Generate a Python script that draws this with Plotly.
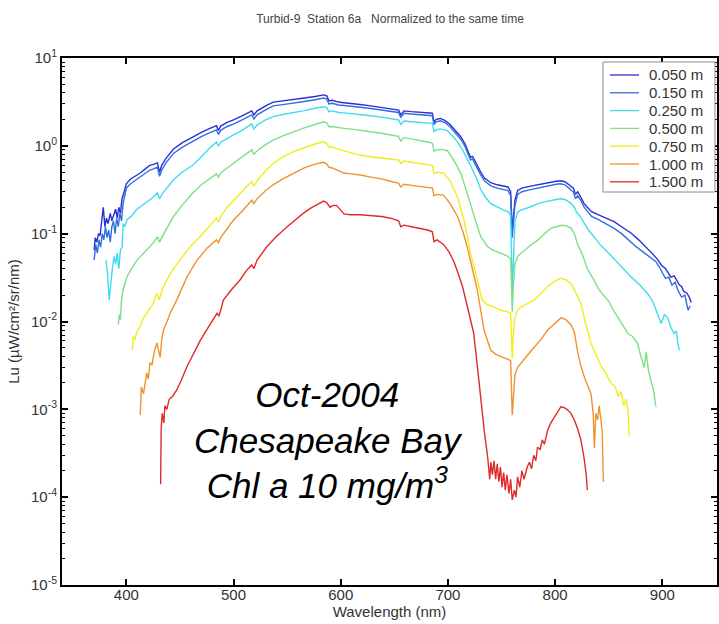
import plotly.graph_objects as go

# Upwelling radiance Lu at several depths, Turbid-9 station 6a
DEPTH_LABELS = ["0.050 m", "0.150 m", "0.250 m", "0.500 m", "0.750 m", "1.000 m", "1.500 m"]
LINE_COLORS = ["#2e2ed2", "#2f6fe0", "#3fdcef", "#7fdf86", "#eeee1e", "#f0922e", "#e02a2a"]

# (wavelength nm, Lu uW/cm^2/sr/nm)
LU_0050 = [
    (370, 0.065), (371, 0.09), (372.5, 0.08), (374, 0.1), (375.5, 0.095), (377, 0.13), (378.5, 0.2),
    (380, 0.12), (381.5, 0.15), (383, 0.13), (385, 0.17), (386.5, 0.14), (388, 0.16), (390, 0.19),
    (391.5, 0.15), (393, 0.2), (394.5, 0.17), (396, 0.25), (398, 0.3), (400, 0.37), (404, 0.42),
    (408, 0.45), (413, 0.49), (418, 0.55), (422, 0.6), (426, 0.62), (429, 0.64), (431, 0.5),
    (433, 0.6), (437, 0.72), (444, 0.92), (452, 1.08), (462, 1.27), (470, 1.42), (478, 1.58),
    (484, 1.7), (486, 1.5), (488, 1.68), (494, 1.85), (500, 1.97), (508, 2.2), (514, 2.4),
    (517, 2.5), (519, 2.25), (522, 2.5), (530, 2.85), (537, 3.15), (546, 3.25), (556, 3.35),
    (566, 3.5), (576, 3.65), (584, 3.8), (587, 3.7), (589, 3.25), (592, 3.3), (598, 3.15),
    (603, 3.1), (610, 3.05), (618, 2.95), (628, 2.85), (638, 2.75), (648, 2.62), (654, 2.55),
    (656, 2.25), (659, 2.5), (666, 2.45), (675, 2.42), (682, 2.38), (685.5, 2.35), (687, 1.85),
    (689, 2.0), (693, 2.05), (697, 1.95), (702, 1.75), (707, 1.5), (712, 1.27), (716, 1.05),
    (719.5, 0.8), (721, 0.74), (723, 0.76), (727, 0.6), (730, 0.52), (734, 0.43), (740, 0.38),
    (746, 0.36), (752, 0.35), (756, 0.34), (758.5, 0.3), (760, 0.11), (761, 0.15), (762.5, 0.24),
    (765, 0.31), (769, 0.33), (776, 0.345), (784, 0.36), (790, 0.375), (796, 0.39), (801, 0.395),
    (805, 0.40), (809, 0.39), (813, 0.36), (815, 0.34), (817, 0.33), (819, 0.28), (821, 0.3),
    (824, 0.26), (827, 0.22), (830, 0.2), (834, 0.178), (840, 0.165), (848, 0.148), (855, 0.137),
    (862, 0.12), (871, 0.101), (878, 0.085), (885, 0.07), (892, 0.057), (896, 0.05), (899, 0.044),
    (903, 0.04), (906, 0.035), (908, 0.032), (911, 0.033), (914, 0.028), (916, 0.026),
    (918, 0.025), (920, 0.022), (923, 0.021), (925, 0.019), (927, 0.0165),
]

LU_0150 = [
    (370, 0.05), (371.5, 0.075), (373, 0.06), (374.5, 0.085), (376, 0.07), (377.5, 0.1),
    (379, 0.085), (380.5, 0.12), (382, 0.09), (383.5, 0.11), (385, 0.08), (386.5, 0.12),
    (388, 0.14), (389.5, 0.1), (391, 0.15), (392.5, 0.12), (394, 0.17), (395.5, 0.14),
    (397, 0.22), (398.5, 0.28), (400, 0.33), (404, 0.37), (408, 0.4), (413, 0.44), (418, 0.49),
    (422, 0.53), (426, 0.55), (429, 0.57), (431, 0.45), (433, 0.53), (437, 0.64), (444, 0.82),
    (452, 0.96), (462, 1.13), (470, 1.27), (478, 1.41), (484, 1.52), (486, 1.35), (488, 1.5),
    (494, 1.66), (500, 1.77), (508, 1.98), (514, 2.15), (517, 2.25), (519, 2.02), (522, 2.25),
    (530, 2.57), (537, 2.85), (546, 2.95), (556, 3.05), (566, 3.2), (576, 3.35), (584, 3.5),
    (587, 3.4), (589, 3.0), (592, 3.05), (598, 2.92), (603, 2.88), (610, 2.84), (618, 2.75),
    (628, 2.66), (638, 2.57), (648, 2.46), (654, 2.4), (656, 2.1), (659, 2.35), (666, 2.3),
    (675, 2.27), (682, 2.24), (685.5, 2.2), (687, 1.74), (689, 1.88), (693, 1.93), (697, 1.84),
    (702, 1.65), (707, 1.41), (712, 1.19), (716, 0.98), (719.5, 0.75), (721, 0.69), (723, 0.71),
    (727, 0.56), (730, 0.48), (734, 0.4), (740, 0.35), (746, 0.33), (752, 0.32), (756, 0.31),
    (758.5, 0.27), (760, 0.09), (761, 0.13), (762.5, 0.21), (765, 0.28), (769, 0.3), (776, 0.315),
    (784, 0.33), (790, 0.345), (796, 0.36), (801, 0.365), (805, 0.37), (809, 0.36), (813, 0.33),
    (815, 0.31), (817, 0.3), (819, 0.25), (821, 0.27), (824, 0.24), (827, 0.2), (830, 0.18),
    (834, 0.157), (840, 0.145), (848, 0.128), (855, 0.115), (862, 0.1), (868, 0.085),
    (875, 0.072), (882, 0.062), (889, 0.053), (894, 0.048), (897, 0.042), (900, 0.036),
    (903, 0.031), (906, 0.032), (909, 0.026), (912, 0.028), (915, 0.022), (918, 0.019),
    (921, 0.02), (924, 0.0135), (926, 0.015),
]

LU_0250 = [
    (381, 0.05), (382.5, 0.035), (384, 0.0175), (385.5, 0.03), (387, 0.04), (388.5, 0.055),
    (390, 0.045), (391.5, 0.06), (393, 0.04), (394.5, 0.065), (396, 0.07), (397, 0.13),
    (398.5, 0.12), (400.5, 0.143), (405, 0.16), (410, 0.19), (415, 0.21), (420, 0.235),
    (425, 0.26), (429, 0.29), (431, 0.25), (434, 0.29), (440, 0.36), (444, 0.41), (452, 0.5),
    (462, 0.6), (470, 0.75), (478, 0.95), (484, 1.1), (486, 0.99), (488, 1.1), (494, 1.22),
    (500, 1.33), (508, 1.5), (514, 1.68), (517, 1.78), (519, 1.55), (522, 1.72), (530, 1.98),
    (537, 2.15), (546, 2.27), (556, 2.38), (566, 2.52), (576, 2.68), (584, 2.79), (587, 2.72),
    (589, 2.45), (592, 2.5), (598, 2.4), (603, 2.37), (610, 2.33), (618, 2.27), (628, 2.2),
    (638, 2.12), (648, 2.02), (654, 1.97), (656, 1.75), (659, 1.92), (666, 1.88), (675, 1.85),
    (682, 1.82), (685.5, 1.8), (687, 1.45), (689, 1.52), (693, 1.56), (699, 1.5), (704, 1.3),
    (709, 1.11), (714, 0.88), (718, 0.72), (721, 0.6), (724, 0.5), (727, 0.42), (730.5, 0.32),
    (735, 0.26), (740, 0.22), (746, 0.2), (752, 0.185), (756, 0.178), (758.5, 0.16), (760, 0.022),
    (761, 0.06), (762.5, 0.14), (765, 0.175), (768, 0.185), (776, 0.2), (784, 0.22), (790, 0.23),
    (796, 0.24), (801, 0.245), (805, 0.25), (809, 0.245), (813, 0.23), (815, 0.22), (818, 0.2),
    (820, 0.175), (823, 0.16), (827, 0.13), (831, 0.11), (836, 0.093), (842, 0.075), (850, 0.06),
    (856, 0.05), (863, 0.04), (871, 0.032), (879, 0.026), (886, 0.021), (891, 0.017),
    (895, 0.013), (899, 0.0095), (902, 0.012), (905, 0.011), (908, 0.0085), (911, 0.0073),
    (913, 0.0078), (914.5, 0.0056), (916, 0.0047),
]

LU_0500 = [
    (392.5, 0.0092), (393.5, 0.012), (394.5, 0.0105), (395.5, 0.0175), (397, 0.023),
    (398.5, 0.027), (400.5, 0.032), (405, 0.04), (410, 0.05), (415, 0.058), (420, 0.067),
    (425, 0.078), (429, 0.092), (431, 0.08), (434, 0.095), (440, 0.13), (444, 0.157),
    (452, 0.21), (462, 0.29), (470, 0.36), (478, 0.42), (484, 0.48), (486, 0.44), (488, 0.49),
    (494, 0.56), (500, 0.63), (508, 0.74), (514, 0.84), (517, 0.9), (519, 0.8), (522, 0.88),
    (530, 1.03), (537, 1.16), (546, 1.3), (556, 1.45), (566, 1.6), (576, 1.75), (584, 1.88),
    (587, 1.82), (589, 1.65), (592, 1.66), (598, 1.6), (603, 1.58), (610, 1.55), (618, 1.51),
    (628, 1.45), (638, 1.39), (648, 1.32), (654, 1.28), (656, 1.13), (659, 1.24), (666, 1.2),
    (675, 1.15), (682, 1.1), (685.5, 1.07), (687, 0.87), (689, 0.9), (694, 0.91), (699.5, 0.88),
    (705, 0.7), (712, 0.49), (716, 0.35), (721, 0.22), (725, 0.15), (730.5, 0.093), (737, 0.071),
    (743, 0.064), (749, 0.06), (755, 0.056), (758.5, 0.052), (760, 0.013), (761, 0.025),
    (762.5, 0.045), (765, 0.055), (768, 0.06), (776, 0.072), (784, 0.085), (790, 0.1),
    (796, 0.115), (801, 0.12), (807, 0.125), (811, 0.122), (815, 0.115), (818, 0.1),
    (821, 0.075), (825, 0.06), (830, 0.04), (836, 0.03), (840, 0.024), (845, 0.02), (850, 0.017),
    (855, 0.013), (860, 0.0105), (864, 0.0088), (868, 0.0073), (872, 0.0068), (877, 0.0056),
    (880, 0.004), (883, 0.003), (885, 0.0045), (887, 0.0028), (889.5, 0.0021), (892, 0.0016),
    (894, 0.00107),
]

LU_0750 = [
    (405.5, 0.0047), (406.5, 0.0068), (408, 0.0062), (410, 0.0078), (413, 0.0088), (416, 0.011),
    (419, 0.0124), (422, 0.014), (425, 0.016), (428.5, 0.021), (430.5, 0.0175), (432, 0.02),
    (434, 0.024), (438, 0.03), (444, 0.04), (450, 0.05), (460, 0.072), (469, 0.093), (478, 0.125),
    (484, 0.15), (486, 0.135), (488, 0.155), (494, 0.2), (500, 0.24), (508, 0.3), (514, 0.36),
    (517, 0.39), (519, 0.35), (522, 0.4), (530, 0.52), (537, 0.63), (546, 0.75), (556, 0.86),
    (566, 0.96), (576, 1.05), (584, 1.11), (587, 1.06), (589, 0.97), (592, 0.97), (600, 0.9),
    (610, 0.84), (618.5, 0.78), (628, 0.75), (638, 0.73), (648, 0.7), (654, 0.69), (656, 0.63),
    (659, 0.67), (666, 0.65), (675, 0.63), (682, 0.61), (685.5, 0.6), (687, 0.48), (690, 0.5),
    (696, 0.49), (702, 0.4), (709, 0.26), (715, 0.143), (718, 0.095), (721, 0.06), (724, 0.044),
    (727, 0.032), (732, 0.0175), (737, 0.0155), (743, 0.0146), (749, 0.0134), (755, 0.013),
    (758.5, 0.0125), (760, 0.0038), (761, 0.007), (762.5, 0.011), (765, 0.0135), (768, 0.0146),
    (774, 0.016), (780.5, 0.0175), (787, 0.021), (793, 0.025), (800, 0.029), (805.4, 0.031),
    (810, 0.03), (814.8, 0.027), (818, 0.023), (821, 0.019), (824, 0.016), (828, 0.01),
    (833.5, 0.0056), (838, 0.0042), (843, 0.0031), (847, 0.0026), (852, 0.002), (856, 0.0018),
    (859, 0.0014), (861.5, 0.0016), (864, 0.0011), (866, 0.0013), (868, 0.001), (869, 0.0005),
]

LU_1000 = [
    (413, 0.00086), (414, 0.0018), (416, 0.0015), (419, 0.0026), (420.5, 0.0022), (422, 0.0034),
    (424, 0.0032), (426, 0.0045), (428.5, 0.0057), (430, 0.0048), (431.6, 0.0039), (433, 0.0062),
    (434.7, 0.008), (438, 0.01), (441, 0.0125), (447, 0.0175), (452, 0.024), (456.5, 0.032),
    (465, 0.048), (475, 0.068), (484, 0.085), (486, 0.079), (488, 0.09), (494, 0.115),
    (500, 0.143), (508, 0.18), (514, 0.22), (517, 0.24), (519, 0.22), (522, 0.25), (530, 0.31),
    (537, 0.36), (546, 0.42), (556, 0.49), (566, 0.56), (576, 0.62), (584, 0.65), (587, 0.62),
    (589, 0.57), (592, 0.56), (598, 0.52), (603, 0.49), (610, 0.48), (618.5, 0.465), (628, 0.44),
    (638, 0.42), (648, 0.39), (654, 0.376), (656, 0.34), (659, 0.365), (666, 0.355), (675, 0.345),
    (682, 0.335), (685.5, 0.33), (687, 0.27), (690, 0.28), (696, 0.275), (702, 0.22), (709, 0.157),
    (714, 0.105), (718, 0.071), (721, 0.05), (724, 0.035), (727, 0.024), (729, 0.0175),
    (731, 0.012), (733.7, 0.008), (737, 0.006), (740, 0.0047), (745, 0.0042), (749, 0.004),
    (755, 0.0037), (758.5, 0.0036), (760, 0.00086), (761, 0.0015), (762.5, 0.0025), (765, 0.003),
    (768, 0.0033), (774, 0.0041), (780.5, 0.0051), (787, 0.0063), (793, 0.008), (800, 0.0097),
    (805.4, 0.011), (810, 0.0105), (814.8, 0.0092), (818, 0.0075), (821, 0.0045), (824, 0.0031),
    (828, 0.0022), (833.5, 0.0015), (835.5, 0.0009), (836.6, 0.00036), (838, 0.0009),
    (839.7, 0.00076), (841, 0.0011), (842.5, 0.0008), (844, 0.00055), (845, 0.00015),
]

LU_1500 = [
    (432, 0.00014), (432.5, 0.0006), (433.5, 0.0009), (435, 0.0007), (436, 0.0011),
    (437.8, 0.001), (440, 0.0013), (443, 0.0014), (447, 0.00166), (451, 0.0021), (456.5, 0.00305),
    (462, 0.0042), (469, 0.0061), (477, 0.0088), (484.6, 0.0124), (486.5, 0.0115), (490.5, 0.0175),
    (498, 0.023), (506, 0.0297), (512, 0.038), (517, 0.044), (519, 0.04), (522, 0.05), (531, 0.071),
    (540, 0.093), (550, 0.12), (558, 0.145), (565, 0.17), (572, 0.195), (578, 0.215), (584, 0.235),
    (587, 0.225), (590, 0.2), (593, 0.21), (596, 0.21), (603, 0.168), (609, 0.164), (618.5, 0.164),
    (628, 0.161), (638, 0.157), (646.5, 0.15), (654, 0.14), (656, 0.12), (659, 0.125), (666, 0.12),
    (675, 0.115), (681, 0.11), (685.5, 0.105), (687, 0.081), (690, 0.085), (696, 0.075),
    (701, 0.062), (705.6, 0.048), (710, 0.034), (713.6, 0.025), (718, 0.015), (721, 0.0105),
    (724, 0.0074), (727, 0.0035), (730.6, 0.00127), (734, 0.00055), (737, 0.00029), (738, 0.00022),
    (739, 0.00016), (740, 0.00025), (741.5, 0.00018), (743, 0.00026), (744.5, 0.00016),
    (746, 0.00024), (747.5, 0.00015), (749, 0.00022), (750.5, 0.00013), (752, 0.00019),
    (753.5, 0.00012), (755, 0.00018), (757, 0.00011), (758.5, 0.00016), (760, 0.000093),
    (762, 0.00012), (763.5, 0.0001), (765, 0.00017), (767, 0.00013), (769, 0.0002), (771, 0.00016),
    (774, 0.00022), (776, 0.00025), (778, 0.00021), (780, 0.0003), (782, 0.00026), (783.6, 0.00037),
    (786, 0.00035), (788, 0.00045), (790, 0.0004), (793, 0.00058), (796, 0.0007), (800, 0.00085),
    (803, 0.00095), (805.4, 0.00107), (808, 0.00105), (811, 0.001), (814.8, 0.0009),
    (818, 0.00075), (821, 0.0006), (824, 0.00045), (827, 0.00028), (829, 0.00018), (830, 0.00012),
]

SERIES = [LU_0050, LU_0150, LU_0250, LU_0500, LU_0750, LU_1000, LU_1500]

X_TICKS = [400, 500, 600, 700, 800, 900]
Y_EXPONENTS = [-5, -4, -3, -2, -1, 0, 1]

W, H = 719, 624
M_L, M_R, M_T, M_B = 62, 2, 58, 39
PW, PH = W - M_L - M_R, H - M_T - M_B


def px_x(px):
    return (px - M_L) / PW


def px_y(py):
    return (H - M_B - py) / PH


FONT = "Arial, Liberation Sans, Helvetica, sans-serif"
TEXT_GREY = "#333333"

fig = go.Figure()
for label, color, pts in zip(DEPTH_LABELS, LINE_COLORS, SERIES):
    fig.add_trace(go.Scatter(
        x=[p[0] for p in pts], y=[p[1] for p in pts], mode="lines", name=label,
        line=dict(color=color, width=1.4), showlegend=False,
    ))

axis_common = dict(
    showline=True, linecolor="black", linewidth=2, mirror="allticks",
    ticks="inside", ticklen=6, tickwidth=1.5, tickcolor="black",
    showgrid=False, zeroline=False,
    tickfont=dict(family=FONT, size=15, color=TEXT_GREY),
    automargin=False,
)

fig.update_xaxes(
    range=[340, 951], tickmode="array", tickvals=X_TICKS, ticklabelstandoff=-5,
    title=dict(text="Wavelength (nm)", font=dict(family=FONT, size=15, color=TEXT_GREY), standoff=0),
    **axis_common,
)

minor_vals = [k * 10.0 ** e for e in Y_EXPONENTS[:-1] for k in range(2, 10)]
fig.update_yaxes(
    type="log", range=[-5, 1], tickmode="array",
    tickvals=[10.0 ** e for e in Y_EXPONENTS],
    ticktext=[f"10<sup>{e}</sup>" for e in Y_EXPONENTS],
    minor=dict(tickmode="array", tickvals=minor_vals, ticks="inside", ticklen=3,
               tickwidth=1, tickcolor="black", showgrid=False),
    title=dict(text="Lu (µW/cm²/sr/nm)", font=dict(family=FONT, size=15, color=TEXT_GREY), standoff=8),
    **axis_common,
)

# legend box drawn from the series labels and colours
LEG_LEFT, LEG_RIGHT, LEG_TOP, LEG_BOTTOM = 603, 715, 62, 192
LEG_ROW0, LEG_STEP = 75, 17.8
shapes = [dict(type="rect", xref="paper", yref="paper",
               x0=px_x(LEG_LEFT), x1=px_x(LEG_RIGHT), y0=px_y(LEG_BOTTOM), y1=px_y(LEG_TOP),
               line=dict(color="#8a8a8a", width=1), fillcolor="white", layer="above")]
annotations = []
for i, (label, color) in enumerate(zip(DEPTH_LABELS, LINE_COLORS)):
    yc = px_y(LEG_ROW0 + i * LEG_STEP)
    shapes.append(dict(type="line", xref="paper", yref="paper",
                       x0=px_x(610), x1=px_x(639), y0=yc, y1=yc,
                       line=dict(color=color, width=1.3), layer="above"))
    annotations.append(dict(xref="paper", yref="paper", x=px_x(647), y=yc, text=label,
                            showarrow=False, xanchor="left", yanchor="middle",
                            font=dict(family=FONT, size=15, color=TEXT_GREY)))

annotations.append(dict(
    xref="paper", yref="paper", x=px_x(328), y=px_y(440),
    text="<i>Oct-2004<br>Chesapeake Bay<br>Chl a 10 mg/m<sup>3</sup></i>",
    showarrow=False, xanchor="center", yanchor="middle", align="center",
    font=dict(family=FONT, size=35, color="black"),
))

fig.update_layout(
    width=W, height=H,
    margin=dict(l=M_L, r=M_R, t=M_T, b=M_B, pad=0),
    paper_bgcolor="white", plot_bgcolor="white",
    title=dict(
        text="Turbid-9\u00a0\u00a0Station 6a\u00a0\u00a0\u00a0Normalized to the same time",
        x=px_x(390), xref="paper", xanchor="center",
        y=1 - 19 / H, yref="container", yanchor="middle",
        font=dict(family=FONT, size=12, color="#444444"),
    ),
    shapes=shapes, annotations=annotations, showlegend=False,
)

fig.write_html("out.html")
